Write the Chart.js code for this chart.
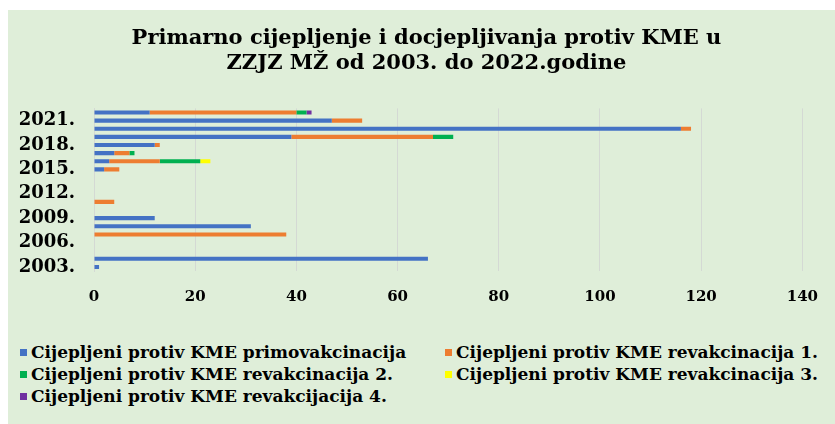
<!DOCTYPE html>
<html>
<head>
<meta charset="utf-8">
<script src="https://cdn.jsdelivr.net/npm/chart.js@4"></script>
<style>
  html, body { margin: 0; padding: 0; background: #fff; }
  #panel { position: absolute; left: 8px; top: 10px; width: 827px; height: 414px; background: #dfeed9; }
  #wrap { position: relative; width: 827px; height: 300px; }
  #legend { display: grid; grid-template-columns: 425px 380px; padding: 31px 0 0 12px; }
  .item { display: flex; align-items: center; height: 22px; font: bold 17px 'DejaVu Serif', serif; color: #000; white-space: nowrap; }
  .box { width: 7px; height: 7px; margin-right: 4px; flex: none; }
</style>
</head>
<body>
<div id="panel">
  <div id="wrap"><canvas id="chart"></canvas></div>
  <div id="legend"></div>
</div>
<script>
const years = ['2003.', '2004.', '2005.', '2006.', '2007.', '2008.', '2009.', '2010.', '2011.', '2012.',
               '2013.', '2014.', '2015.', '2016.', '2017.', '2018.', '2019.', '2020.', '2021.', '2022.'];
const primovakcinacija = [1, 66, 0, 0, 0, 31, 12, 0, 0, 0, 0, 0, 2, 3, 4, 12, 39, 116, 47, 11];
const revakcinacija1   = [0, 0, 0, 0, 38, 0, 0, 0, 4, 0, 0, 0, 3, 10, 3, 1, 28, 2, 6, 29];
const revakcinacija2   = [0, 0, 0, 0, 0, 0, 0, 0, 0, 0, 0, 0, 0, 8, 1, 0, 4, 0, 0, 2];
const revakcinacija3   = [0, 0, 0, 0, 0, 0, 0, 0, 0, 0, 0, 0, 0, 2, 0, 0, 0, 0, 0, 0];
const revakcijacija4   = [0, 0, 0, 0, 0, 0, 0, 0, 0, 0, 0, 0, 0, 0, 0, 0, 0, 0, 0, 1];
const seriesNames = [
  'Cijepljeni protiv KME primovakcinacija',
  'Cijepljeni protiv KME revakcinacija 1.',
  'Cijepljeni protiv KME revakcinacija 2.',
  'Cijepljeni protiv KME revakcinacija 3.',
  'Cijepljeni protiv KME revakcijacija 4.'
];
const xTicks = [0, 20, 40, 60, 80, 100, 120, 140];
const colors = ['#4472c4', '#ed7d31', '#00b050', '#ffff00', '#7030a0'];

Chart.defaults.font.family = "'DejaVu Serif', serif";
Chart.defaults.font.weight = 'bold';
Chart.defaults.color = '#000';

const seriesData = [primovakcinacija, revakcinacija1, revakcinacija2, revakcinacija3, revakcijacija4];

const chart = new Chart(document.getElementById('chart'), {
  type: 'bar',
  data: {
    labels: years,
    datasets: seriesData.map((d, i) => ({
      label: seriesNames[i],
      data: d,
      backgroundColor: colors[i],
      borderWidth: 0,
      barPercentage: 0.5,
      categoryPercentage: 1
    }))
  },
  options: {
    indexAxis: 'y',
    responsive: true,
    maintainAspectRatio: false,
    animation: false,
    layout: { padding: { left: 10, right: 0, top: 0, bottom: 0 } },
    plugins: {
      legend: { display: false },
      tooltip: { enabled: false },
      title: {
        display: true,
        text: ['Primarno cijepljenje i docjepljivanja protiv KME u', 'ZZJZ MŽ od 2003. do 2022.godine'],
        font: { size: 21, weight: 'bold', lineHeight: 1.2 },
        color: '#000',
        padding: { top: 16, bottom: 32 }
      }
    },
    scales: {
      x: {
        stacked: true,
        min: 0, max: xTicks[xTicks.length - 1],
        afterBuildTicks: s => { s.ticks = xTicks.map(v => ({ value: v })); },
        ticks: { font: { size: 15, weight: 'bold' }, padding: 17, color: '#000' },
        grid: { color: '#d4d9d4', lineWidth: 1, drawTicks: false },
        border: { display: false },
        afterFit: s => { s.height = 39; }
      },
      y: {
        stacked: true,
        reverse: true,
        ticks: {
          autoSkip: false,
          padding: 19,
          font: { size: 18, weight: 'bold' },
          color: '#000',
          callback: function(v, i) { return i % 3 === 0 ? years[i] : ''; }
        },
        grid: { display: false, drawTicks: false },
        border: { display: true, color: '#d4d9d4' },
        afterFit: s => { s.width = 76; }
      },
      // empty right-hand strip so the plot ends at 140 where the original does
      spacer: {
        type: 'linear',
        axis: 'y',
        position: 'right',
        ticks: { display: false },
        grid: { display: false, drawTicks: false },
        border: { display: false },
        afterFit: s => { s.width = 29; }
      }
    }
  }
});

const legendEl = document.getElementById('legend');
chart.options.plugins.legend.labels.generateLabels(chart).forEach(it => {
  const row = document.createElement('div');
  row.className = 'item';
  row.innerHTML = '<span class="box" style="background:' + it.fillStyle + '"></span><span>' + it.text + '</span>';
  legendEl.appendChild(row);
});
</script>
</body>
</html>
